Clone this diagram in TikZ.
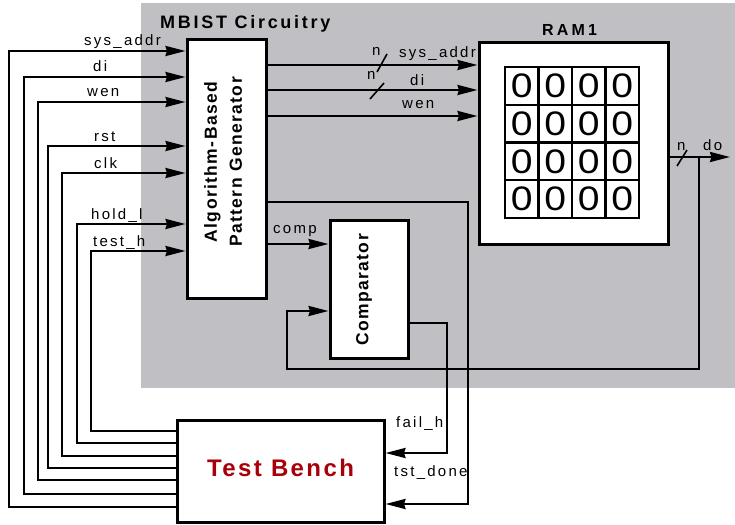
\documentclass[tikz,border=0pt]{standalone}
\usepackage{graphicx}
\usepackage{fontspec}
\setmainfont{Liberation Sans}
\newfontfamily\sigfont[LetterSpace=15]{Liberation Sans}
\newfontfamily\blkfont[LetterSpace=8]{Liberation Sans}
\newfontfamily\ramfont[LetterSpace=20]{Liberation Sans}
\newfontfamily\tbfont[LetterSpace=10]{Liberation Sans}
\usetikzlibrary{arrows.meta}
\definecolor{mbgray}{RGB}{192,191,196}
\definecolor{tbred}{RGB}{168,0,8}
\tikzset{
  blk/.style={draw, line width=3pt, fill=white, inner sep=0pt},
  wire/.style={line width=2.4pt},
  sig/.style={wire, -{Stealth[length=20pt,width=10pt,inset=1.5pt]}},
  bus/.style={line width=1.6pt},
  lbl/.style={font=\fontsize{15}{15}\sigfont, inner sep=0pt, anchor=base west},
  ttl/.style={font=\fontsize{18}{18}\sigfont\bfseries, inner sep=0pt, anchor=base west},
  blktxt/.style={font=\fontsize{17.5}{25}\blkfont\bfseries, inner sep=0pt, rotate=90, align=center},
  bit/.style={draw, line width=2.4pt, inner sep=0pt, minimum width=33.5pt, minimum height=37.75pt,
    font=\fontsize{34}{34}\selectfont}
}
\begin{document}
\begin{tikzpicture}[x=1pt,y=-1pt]
  \useasboundingbox (0,0) rectangle (735,524);
  % MBIST area
  \fill[mbgray] (141,3) rectangle (735,388);
  \node[ttl] (mbist) at (160,29) {MBIST Circuitry};
  % Blocks
  \node[blk, minimum width=79pt, minimum height=258pt] (pg) at (226.5,169) {};
  \node[blktxt] (pgtxt) at (223,162) {Algorithm-Based\\Pattern Generator};
  \node[blk, minimum width=189pt, minimum height=201pt] (ram) at (573.5,143.5) {};
  \node[font=\fontsize{16}{16}\ramfont\bfseries, inner sep=0pt, anchor=base west] (ramtxt) at (542,36) {RAM1};
  \node[blk, minimum width=78pt, minimum height=138pt] (cmp) at (369,289) {};
  \node[blktxt] (cmptxt) at (364,290) {Comparator};
  \node[blk, minimum width=207pt, minimum height=102pt] (tb) at (280.5,471) {};
  \node[font=\fontsize{24}{24}\tbfont\bfseries, text=tbred, inner sep=0pt, anchor=base west] (tbtxt) at (207,476) {Test Bench};
  % Memory cells
  \foreach \r in {0,...,3}
    \foreach \c in {0,...,3}
      \node[bit] (cell\r\c) at (521.75+\c*33.5, 85.9+\r*37.75) {\scalebox{1.15}[1]{0}};
  % Test bench to pattern generator
  \foreach \nm/\yin/\xl/\ytb/\xt in {sys\_addr/51/9/507/84, di/77/24/494/93, wen/102/38/480/87,
      rst/146/48/468/94, clk/173/62/456/94, hold\_l/224/77/443/91, test\_h/251/91/431/93}{
    \draw[sig] (tb.west |- 0,\ytb) -| (\xl,\yin) -- (pg.west |- 0,\yin);
    \node[lbl] (in\ytb) at (\xt,\yin-5) {\nm};
  }
  % Pattern generator to RAM
  \draw[sig] (pg.east |- 0,65) -- (ram.west |- 0,65);
  \draw[sig] (pg.east |- 0,90) -- (ram.west |- 0,90);
  \draw[sig] (pg.east |- 0,116) -- (ram.west |- 0,116);
  \draw[bus] (377,72) -- (387,54);
  \draw[bus] (370,99) -- (384,83);
  \node[lbl] (nsa) at (372,56) {n};
  \node[lbl] (ndi) at (367,80) {n};
  \node[lbl] (osa) at (399,58) {sys\_addr};
  \node[lbl] (odi) at (410,85) {di};
  \node[lbl] (owen) at (402,108) {wen};
  % RAM output
  \coordinate (doend) at (730,157);
  \coordinate (dotap) at (699,157);
  \draw[sig] (ram.east |- doend) -- (doend);
  \draw[bus] (677,166) -- (687,150);
  \node[lbl] (ndo) at (677,150) {n};
  \node[lbl] (odo) at (703,150) {do};
  \draw[sig] (dotap) |- (287,369) |- (cmp.west |- 0,311);
  % Compare and status
  \draw[sig] (pg.east |- 0,244) -- (cmp.west |- 0,244);
  \node[lbl] (ocmp) at (273,233) {comp};
  \draw[sig] (pg.east |- 0,202) -| (468,504) -- (tb.east |- 0,504);
  \node[lbl] (odone) at (394,476) {tst\_done};
  \draw[sig] (cmp.east |- 0,323) -| (447,453) -- (tb.east |- 0,453);
  \node[lbl] (ofail) at (396,427) {fail\_h};
\end{tikzpicture}
\end{document}
